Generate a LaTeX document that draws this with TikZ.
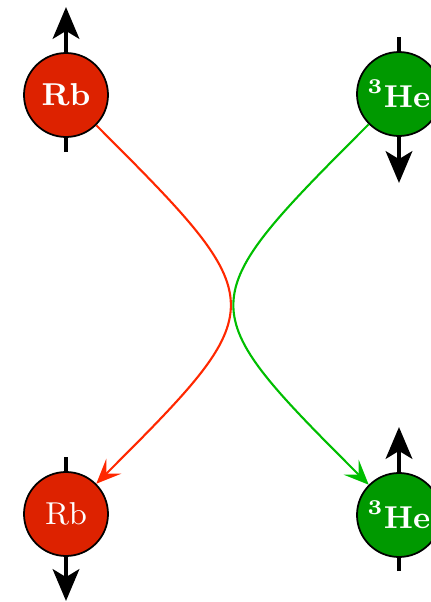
\documentclass[tikz,border=0pt]{standalone}
\usepackage{amsmath,amssymb}
\usepackage{tikz}
\usetikzlibrary{arrows.meta}
\usepackage{xcolor}

\definecolor{rbfill}{RGB}{221,34,0}
\definecolor{rbline}{RGB}{255,40,0}
\definecolor{hefill}{RGB}{0,153,0}
\definecolor{heline}{RGB}{0,190,0}

\tikzset{
  atom/.style={circle,draw=black,line width=0.5pt,minimum size=0.84cm,inner sep=0pt,text=white,font=\small},
  rbatom/.style={atom,fill=rbfill},
  heatom/.style={atom,fill=hefill},
  spin/.style={line width=1.4pt,-{Stealth[length=9pt,width=7.5pt,inset=2.2pt]}},
  swap/.style={line width=0.6pt,-{Stealth[length=7pt,width=6pt,inset=3pt]}}
}

\begin{document}
\begin{tikzpicture}[line cap=butt]
\useasboundingbox (0,0) rectangle (4.31,6.02);
% spin ends
\coordinate (rbAtail) at (0.66,4.50);
\coordinate (rbAtip) at (0.66,5.95);
\coordinate (heAtail) at (3.99,5.65);
\coordinate (heAtip) at (3.99,4.19);
\coordinate (rbBtail) at (0.66,1.45);
\coordinate (rbBtip) at (0.66,0.01);
\coordinate (heBtail) at (3.99,0.31);
\coordinate (heBtip) at (3.99,1.75);
\draw[spin] (rbAtail) -- (rbAtip);
\draw[spin] (heAtail) -- (heAtip);
\draw[spin] (rbBtail) -- (rbBtip);
\draw[spin] (heBtail) -- (heBtip);
% atoms
\node[rbatom] (rbA) at (0.66,5.07) {\textbf{Rb}};
\node[heatom] (heA) at (3.99,5.08) {$^{\mathbf{3}}$\textbf{He}};
\node[rbatom] (rbB) at (0.66,0.88) {Rb};
\node[heatom] (heB) at (3.99,0.87) {$^{\mathbf{3}}$\textbf{He}};
% exchange
\draw[swap,rbline] (rbA) to[out=-45,in=45,looseness=1.8] (rbB);
\draw[swap,heline] (heA) to[out=-135,in=135,looseness=1.8] (heB);
\end{tikzpicture}
\end{document}
